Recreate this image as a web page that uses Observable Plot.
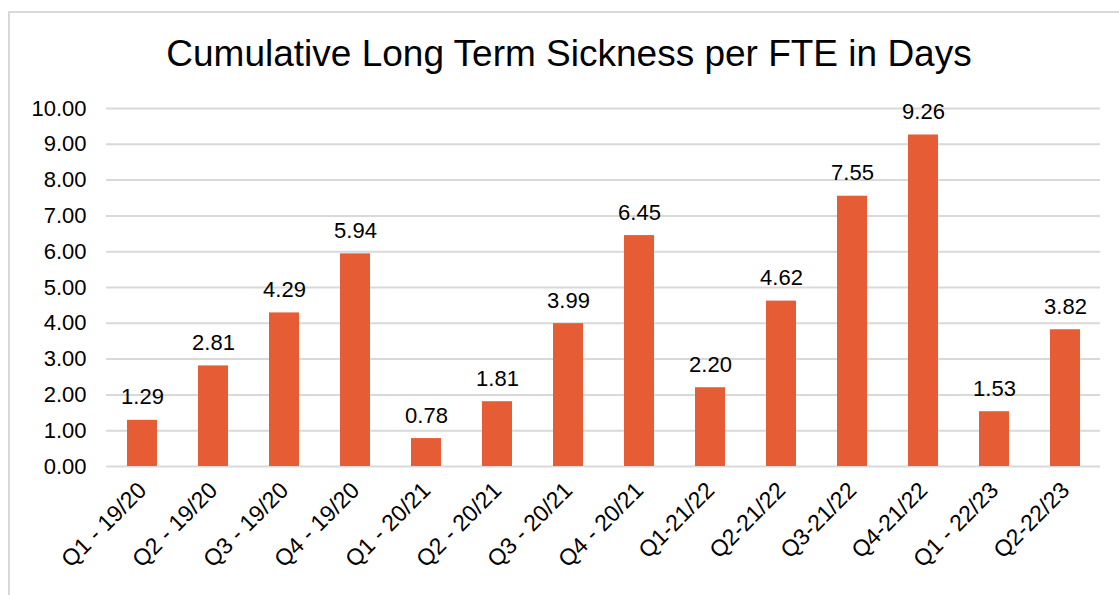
<!DOCTYPE html>
<html>
<head>
<meta charset="utf-8">
<script src="https://cdn.jsdelivr.net/npm/d3@7"></script>
<script src="https://cdn.jsdelivr.net/npm/@observablehq/plot@0.6"></script>
<style>
  body { margin: 0; background: #fff; font-family: "Liberation Sans", Arial, sans-serif; }
  #wrap { position: relative; width: 1119px; height: 595px; overflow: hidden; }
  #border { position: absolute; left: 8px; top: 11px; width: 1200px; height: 700px; border: 2px solid #d9d9d9; box-sizing: border-box; }
  #title { position: absolute; left: 0; width: 1138px; top: 33px; text-align: center; font-size: 37px; line-height: 1.15; color: #000; white-space: nowrap; }
  #chart { position: absolute; left: 0; top: 0; }
</style>
</head>
<body>
<div id="wrap">
  <div id="border"></div>
  <div id="title">Cumulative Long Term Sickness per FTE in Days</div>
  <div id="chart"></div>
</div>
<script>
const categories = ["Q1 - 19/20","Q2 - 19/20","Q3 - 19/20","Q4 - 19/20","Q1 - 20/21","Q2 - 20/21","Q3 - 20/21","Q4 - 20/21","Q1-21/22","Q2-21/22","Q3-21/22","Q4-21/22","Q1 - 22/23","Q2-22/23"];
const values = [1.29, 2.81, 4.29, 5.94, 0.78, 1.81, 3.99, 6.45, 2.20, 4.62, 7.55, 9.26, 1.53, 3.82];
const yTicks = [0,1,2,3,4,5,6,7,8,9,10];

const data = categories.map((c, i) => ({cat: c, val: values[i]}));

const chart = Plot.plot({
  width: 1119,
  height: 595,
  marginTop: 108,
  marginBottom: 129,
  marginLeft: 106,
  marginRight: 19,
  style: {fontFamily: "'Liberation Sans', Arial, sans-serif", background: "transparent", overflow: "visible"},
  x: {domain: categories, paddingInner: 0.58, paddingOuter: 0.29, label: null},
  y: {domain: [0, 10], label: null},
  marks: [
    Plot.gridY(yTicks, {stroke: "#d9d9d9", strokeOpacity: 1, strokeWidth: 2}),
    Plot.axisY(yTicks, {tickSize: 0, tickPadding: 20, tickFormat: d => d.toFixed(2), fontSize: 22, fill: "#000", label: null}),
    Plot.barY(data, {x: "cat", y: "val", fill: "#e65c34"}),
    Plot.text(data, {x: "cat", y: "val", text: d => d.val.toFixed(2), dy: -23, fontSize: 22, fill: "#000"}),
    Plot.axisX({tickSize: 0, tickRotate: -45, tickPadding: 20, fontSize: 23, fill: "#000", label: null}),
  ]
});
document.getElementById("chart").appendChild(chart);
</script>
</body>
</html>
